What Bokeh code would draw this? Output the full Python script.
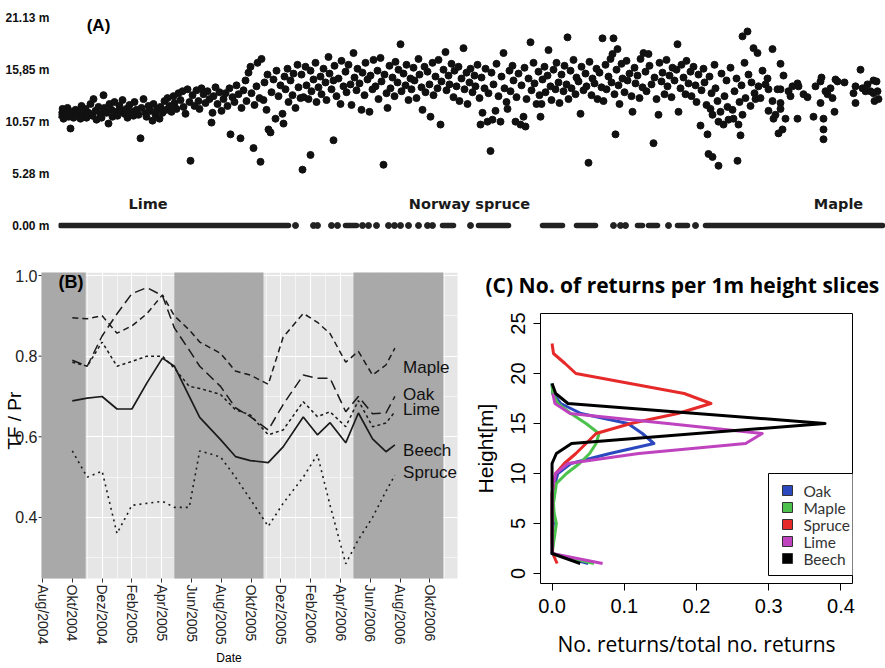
import math

from bokeh.core.properties import value
from bokeh.embed import file_html
from bokeh.layouts import column, row
from bokeh.models import FixedTicker, Grid, Label, Range1d
from bokeh.plotting import figure
from bokeh.resources import INLINE

# ---------------------------------------------------------------------------
# (A) crown heights of laser returns along the transect (position, height in m)
# ---------------------------------------------------------------------------
height_ticks = [0.0, 5.28, 10.57, 15.85, 21.13]
height_tick_labels = ["0.00 m", "5.28 m", "10.57 m", "15,85 m", "21.13 m"]

lime_crowns = [
    (60, 11.3), (62, 11.9), (63, 10.9), (65, 11.5), (67, 12.0), (68, 11.1), (70, 9.9), (71, 11.6),
    (73, 11.0), (75, 11.8), (76, 11.3), (78, 11.7), (80, 10.9), (81, 12.2), (83, 11.4), (85, 11.9),
    (86, 11.0), (88, 11.5), (90, 12.4), (92, 11.2), (93, 12.9), (95, 11.7), (96, 10.8), (98, 12.1),
    (100, 11.4), (101, 11.0), (103, 13.3), (104, 12.0), (106, 11.5), (108, 10.4), (109, 12.4),
    (111, 11.8), (112, 11.1), (114, 12.6), (116, 11.6), (117, 11.2), (119, 12.2), (121, 11.7),
    (122, 12.8), (124, 11.4), (126, 11.9), (127, 11.0), (129, 12.3), (131, 11.6), (133, 11.2),
    (134, 12.6), (136, 11.8), (138, 11.3), (140, 8.9), (141, 12.0), (143, 12.9), (145, 11.5),
    (146, 11.1), (148, 12.2), (150, 11.7), (152, 10.7), (153, 12.4), (155, 11.3), (157, 11.9),
    (159, 10.9), (160, 12.1), (162, 11.5), (164, 12.7), (166, 11.8), (167, 13.0), (169, 12.2),
    (171, 11.6), (173, 13.2), (174, 12.5), (176, 11.9), (178, 13.5), (180, 12.8), (182, 13.7),
    (183, 12.1), (185, 11.4), (187, 13.9), (189, 12.6), (190, 6.6), (192, 13.3), (194, 12.2),
    (196, 13.8), (198, 12.7), (199, 11.9), (201, 14.0), (203, 13.4), (205, 12.5), (207, 13.7),
    (209, 12.9), (211, 10.5), (212, 11.5), (213, 13.2), (215, 14.1), (217, 12.4), (219, 13.6),
    (221, 11.7), (223, 12.9), (225, 13.5), (227, 12.2), (229, 14.0), (230, 9.3), (232, 13.1),
    (234, 12.6), (236, 14.3), (238, 13.4), (240, 8.9), (241, 12.0), (243, 13.8), (245, 14.8),
    (246, 12.7), (248, 15.6), (250, 16.2), (251, 13.5), (253, 7.9), (254, 12.3), (256, 14.2),
    (257, 16.6), (259, 13.0), (260, 6.5), (261, 17.0), (263, 12.8), (264, 14.6), (266, 11.8),
    (267, 15.4), (268, 9.8), (270, 9.5), (271, 13.6), (273, 14.9), (275, 10.9), (276, 15.8),
    (278, 13.2), (280, 14.3), (282, 11.4), (283, 10.4), (284, 15.2), (285, 13.9), (287, 16.0),
    (288, 12.6), (290, 14.8), (292, 13.3), (293, 15.5), (295, 12.0), (297, 16.4), (298, 14.1),
    (300, 13.0),
]

spruce_crowns = [
    (301, 15.4), (302, 5.7), (303, 13.1), (305, 16.2), (306, 14.3), (308, 12.9), (310, 15.8),
    (310, 7.2), (311, 13.7), (313, 14.9), (315, 16.6), (316, 12.6), (318, 14.1), (320, 15.2),
    (321, 13.4), (323, 16.0), (325, 14.6), (326, 12.8), (328, 17.2), (329, 15.5), (331, 13.9),
    (333, 8.7), (333, 14.8), (334, 16.3), (336, 13.2), (338, 15.0), (340, 12.4), (341, 16.8),
    (343, 14.2), (345, 15.7), (346, 13.6), (348, 16.4), (350, 14.4), (351, 12.3),
    (353, 17.6), (354, 15.1), (356, 13.8), (357, 16.0), (359, 14.5), (361, 11.8), (362, 15.6),
    (364, 13.3), (365, 16.6), (367, 14.9), (369, 11.6), (370, 15.3), (372, 13.9), (373, 16.9),
    (375, 14.2), (377, 15.8), (378, 12.9), (380, 17.1), (381, 14.7), (383, 6.2), (384, 15.4),
    (386, 13.5), (387, 12.0), (389, 16.3), (390, 14.0), (392, 15.1), (394, 13.2), (395, 16.7),
    (397, 14.6), (398, 15.9), (400, 18.5), (401, 13.7), (403, 15.5), (405, 14.3), (406, 16.4),
    (408, 12.8), (410, 15.0), (411, 13.9), (413, 16.1), (414, 14.8), (416, 13.0), (418, 17.0),
    (419, 15.4), (421, 14.1), (422, 11.8), (424, 16.2), (425, 13.6), (427, 15.7), (429, 14.4),
    (430, 11.1), (432, 16.6), (433, 13.3), (435, 15.2), (437, 14.0), (438, 16.9), (440, 10.3),
    (441, 14.7), (443, 15.9), (445, 17.7), (446, 13.8), (448, 15.3), (449, 14.4), (451, 16.5),
    (453, 13.1), (454, 15.8), (456, 14.2), (458, 16.2), (459, 12.7), (461, 15.0), (463, 18.1),
    (464, 13.9), (466, 15.6), (467, 12.4), (469, 14.6), (470, 16.0),
    (472, 13.6), (474, 15.3), (475, 14.2), (477, 16.4), (479, 13.0), (480, 10.3), (481, 15.1),
    (482, 11.5), (484, 14.0), (485, 16.0), (487, 10.6), (488, 13.5), (490, 7.6), (491, 15.6),
    (492, 10.8), (493, 14.4), (495, 11.7), (496, 16.5), (498, 13.2), (500, 10.6), (501, 15.2),
    (503, 17.6), (504, 14.0), (506, 12.6), (507, 11.9), (509, 15.8), (510, 13.7), (512, 16.3),
    (513, 14.8), (515, 10.6), (516, 13.1), (518, 15.5), (520, 10.3), (521, 14.3), (523, 11.1),
    (524, 16.1), (525, 10.1), (526, 12.9), (528, 15.0), (530, 18.7), (531, 13.8), (533, 16.6),
    (534, 14.5), (536, 12.4), (538, 15.7), (539, 13.3), (540, 11.1), (541, 12.4), (542, 14.9),
    (544, 16.2), (545, 13.6), (547, 15.3), (548, 17.9), (550, 14.2), (551, 12.8), (553, 15.9),
    (555, 13.9), (556, 16.6), (558, 14.6), (559, 12.5),
    (561, 15.4), (563, 13.7), (564, 16.3), (566, 14.4), (567, 19.2), (568, 12.9), (570, 15.8),
    (571, 14.0), (573, 16.9), (575, 13.4), (576, 15.1), (578, 14.7), (580, 11.4), (581, 16.2),
    (583, 13.8), (585, 15.5), (586, 14.2), (588, 6.4), (589, 16.7), (591, 13.3), (592, 15.0),
    (594, 14.5), (596, 16.0), (597, 12.9), (599, 15.6), (601, 14.1), (602, 19.1), (603, 12.7),
    (605, 16.4), (606, 13.9), (608, 15.2), (610, 17.0), (611, 14.6), (612, 17.5), (613, 19.1),
    (614, 13.4), (615, 9.3), (616, 15.9), (617, 18.0), (618, 14.3), (619, 12.4), (621, 16.5),
    (622, 15.0), (624, 13.6), (626, 16.8), (627, 14.8), (629, 15.5), (631, 13.2), (632, 11.6),
    (634, 16.1), (635, 14.5), (637, 15.3), (639, 13.0), (640, 17.0), (642, 14.1), (643, 17.6),
    (645, 15.7), (646, 13.7), (648, 17.5), (649, 16.3), (651, 14.4), (653, 8.4), (654, 15.1),
    (656, 12.9), (658, 11.3), (659, 16.6), (661, 14.7), (662, 15.6), (664, 13.4), (666, 16.9),
    (667, 14.2), (669, 15.3), (671, 13.1), (672, 16.1), (674, 14.8), (676, 15.9), (677, 18.5),
    (678, 11.6), (680, 14.0), (681, 16.4), (683, 15.1), (685, 13.4), (686, 16.8), (688, 14.5),
    (690, 15.7), (691, 13.2), (693, 16.2), (695, 14.3), (696, 12.6), (698, 15.4), (700, 10.2),
    (701, 13.8), (703, 16.0), (704, 14.6), (706, 12.3), (707, 9.3), (708, 7.3), (709, 15.2),
    (710, 11.9), (711, 13.5), (712, 11.3), (712, 7.0), (714, 16.4), (715, 14.0), (717, 12.7),
    (718, 10.6), (718, 6.1), (720, 11.6), (721, 15.5), (723, 10.3), (724, 13.2), (726, 14.8),
    (727, 12.1), (728, 10.8), (730, 16.1), (732, 11.8), (733, 10.9), (734, 13.7), (736, 15.0),
    (737, 6.6), (738, 10.3), (739, 12.6), (740, 9.2), (741, 14.3), (742, 19.3), (742, 11.3),
    (744, 16.6), (745, 13.0), (747, 19.8), (748, 15.4), (750, 12.2), (751, 14.6), (753, 18.1),
    (754, 13.5), (755, 12.9),
]

maple_crowns = [
    (757, 17.6), (758, 14.2), (760, 13.0), (762, 15.8), (765, 14.4), (767, 15.0), (768, 13.9),
    (768, 11.7), (772, 18.0), (772, 12.7), (773, 10.9), (775, 11.3), (777, 13.9), (778, 9.4),
    (780, 16.5), (780, 13.9), (780, 12.5), (780, 11.9), (782, 9.8), (783, 15.3), (785, 10.9),
    (788, 13.7), (790, 13.2), (792, 14.2), (797, 14.5), (797, 10.9), (798, 14.2), (803, 13.4),
    (807, 13.1), (813, 11.1), (815, 14.2), (820, 14.7), (820, 12.5), (821, 15.1), (823, 10.9),
    (823, 9.8), (823, 8.8), (825, 13.7), (827, 13.4), (830, 14.0), (832, 13.0), (834, 11.6),
    (835, 14.9), (837, 14.7), (844, 14.6), (853, 13.5), (855, 14.2), (855, 12.5), (860, 15.9),
    (862, 14.0), (865, 13.7), (867, 14.4), (870, 13.7), (873, 14.8), (873, 13.5), (874, 12.7),
    (876, 14.7), (877, 13.7), (878, 12.9),
]

# ground returns: continuous runs and isolated hits (position along transect)
ground_run_start = [60, 345, 442, 478, 542, 576, 637, 648, 677, 705]
ground_run_end = [288, 356, 453, 508, 562, 595, 642, 657, 687, 882]
ground_hits = [295, 313, 317, 331, 337, 362, 368, 376, 388, 394, 400, 408, 418, 427, 432,
               470, 613, 620, 625, 668, 695]

stand_names = ["Lime", "Norway spruce", "Maple"]

# ---------------------------------------------------------------------------
# (B) throughfall / precipitation ratio, months after August 2004
# ---------------------------------------------------------------------------
sample_month = [2.0, 3.0, 4.0, 5.0, 6.0, 7.0, 8.05, 8.85, 9.85, 10.55, 11.95, 12.95, 13.95,
                15.15, 16.15, 17.5, 18.45, 19.3, 20.35, 21.2, 22.15, 23.05, 23.65]
tf_maple = [0.895, 0.893, 0.90, 0.857, 0.875, 0.905, 0.952, 0.90, 0.865, 0.835, 0.807, 0.763,
            0.753, 0.73, 0.847, 0.906, 0.884, 0.856, 0.785, 0.812, 0.753, 0.778, 0.82]
tf_oak = [0.79, 0.775, 0.85, 0.905, 0.955, 0.97, 0.95, 0.87, 0.815, 0.775, 0.725, 0.672,
          0.65, 0.617, 0.68, 0.753, 0.745, 0.745, 0.662, 0.70, 0.657, 0.659, 0.70]
tf_lime = [0.785, 0.775, 0.835, 0.775, 0.787, 0.80, 0.80, 0.77, 0.725, 0.72, 0.705, 0.667,
           0.654, 0.605, 0.617, 0.687, 0.65, 0.662, 0.625, 0.69, 0.625, 0.634, 0.662]
tf_beech = [0.689, 0.696, 0.70, 0.669, 0.669, 0.733, 0.795, 0.775, 0.70, 0.648, 0.593, 0.551,
            0.541, 0.536, 0.575, 0.649, 0.605, 0.635, 0.585, 0.659, 0.595, 0.563, 0.58]
tf_spruce = [0.565, 0.50, 0.515, 0.36, 0.43, 0.435, 0.44, 0.425, 0.425, 0.565, 0.55, 0.50,
             0.445, 0.378, 0.435, 0.50, 0.556, 0.43, 0.285, 0.345, 0.40, 0.465, 0.505]

# foliated periods (dark bands)
leaf_on = [-1.0, 8.85, 20.87]
leaf_off = [2.9, 14.83, 26.9]

date_ticks = [0, 2, 4, 6, 8, 10, 12, 14, 16, 18, 20, 22, 24, 26]
date_labels = ["Aug/2004", "Okt/2004", "Dez/2004", "Feb/2005", "Apr/2005", "Jun/2005",
               "Aug/2005", "Okt/2005", "Dez/2005", "Feb/2006", "Apr/2006", "Jun/2006",
               "Aug/2006", "Okt/2006"]
ratio_ticks_b = [0.4, 0.6, 0.8, 1.0]
ratio_labels_b = ["0.4", "0.6", "0.8", "1.0"]

# ---------------------------------------------------------------------------
# (C) vertical return profiles per 1 m height slice
# ---------------------------------------------------------------------------
slice_height = list(range(1, 24))
prof_oak = [0.05, 0.0, 0.001, 0.0, 0.002, 0.0, 0.001, 0.002, 0.004, 0.008, 0.026, 0.08,
            0.141, 0.125, 0.105, 0.04, 0.012, 0.001, 0.0]
prof_maple = [0.058, 0.0, 0.002, 0.004, 0.006, 0.003, 0.002, 0.004, 0.006, 0.02, 0.038,
              0.052, 0.061, 0.065, 0.047, 0.026, 0.008, 0.001, 0.0]
prof_spruce = [0.007, 0.001, 0.0, 0.0, 0.0, 0.0, 0.0, 0.0, 0.002, 0.005, 0.017, 0.033, 0.047,
               0.061, 0.109, 0.174, 0.22, 0.183, 0.108, 0.033, 0.018, 0.002, 0.0]
prof_lime = [0.07, 0.0, 0.0, 0.0, 0.0, 0.0, 0.0, 0.0, 0.002, 0.005, 0.022, 0.12, 0.268,
             0.291, 0.16, 0.025, 0.004, 0.001]
prof_beech = [0.039, 0.0, 0.0, 0.0, 0.0, 0.0, 0.0, 0.0, 0.0, 0.0, 0.0, 0.006, 0.027, 0.2,
              0.378, 0.2, 0.022, 0.005, 0.0]
profile_names = ["Oak", "Maple", "Spruce", "Lime", "Beech"]
profile_colors = ["#2B48BE", "#4CC24C", "#E62A2A", "#BF43BF", "#000000"]
ratio_ticks_c = [0.0, 0.1, 0.2, 0.3, 0.4]
ratio_labels_c = ["0.0", "0.1", "0.2", "0.3", "0.4"]
height_ticks_c = [0, 5, 10, 15, 20, 25]

ARIAL = "Liberation Sans"
CALI = "Lato"
OPEN = "Open Sans"

# ============================ panel A ======================================
pa = figure(width=885, height=245, x_range=Range1d(58, 885), y_range=Range1d(-2.04, 22.96),
            output_backend="svg", toolbar_location=None, x_axis_location=None,
            min_border_left=58, min_border_right=0, min_border_top=0, min_border_bottom=0)
pa.outline_line_color = None
pa.grid.visible = False
pa.background_fill_color = "white"

for crowns in (lime_crowns, spruce_crowns, maple_crowns):
    pa.scatter([c[0] for c in crowns], [c[1] for c in crowns], size=7,
               fill_color="#111111", line_color="#111111")

pa.segment(x0=ground_run_start, y0=[0] * len(ground_run_start),
           x1=ground_run_end, y1=[0] * len(ground_run_end),
           line_width=5.5, line_cap="round", line_color="#222222")
pa.scatter(ground_hits, [0] * len(ground_hits), size=6, fill_color="#222222",
           line_color="#222222")

ya = pa.yaxis[0]
ya.ticker = FixedTicker(ticks=height_ticks)
ya.major_label_overrides = dict(zip(height_ticks, height_tick_labels))
ya.axis_line_color = None
ya.major_tick_line_color = None
ya.minor_tick_line_color = None
ya.major_label_standoff = 3
ya.major_label_text_font = ARIAL
ya.major_label_text_font_style = "bold"
ya.major_label_text_font_size = "12px"
ya.major_label_text_color = "#111111"

pa.add_layout(Label(x=98, y=20.4, text="(A)", text_font=ARIAL, text_font_style="bold",
                    text_font_size="17px", text_align="center", text_baseline="middle",
                    text_color="black"))
for name, xc in zip(stand_names, [147.5, 469, 838]):
    pa.add_layout(Label(x=xc, y=2.2, text=name, text_font="DejaVu Sans",
                        text_font_style="bold", text_font_size="14.5px",
                        text_align="center", text_baseline="middle", text_color="#1a1a1a"))

# ============================ panel B ======================================
# the frame covers the whole upper-left of the panel; the grey data area is drawn
# as a rectangle from PANEL_LEFT..PANEL_RIGHT and PANEL_BOTTOM..PANEL_TOP
PANEL_LEFT = -0.067
PANEL_RIGHT = 27.852
PANEL_BOTTOM = 0.2486
PANEL_TOP = 1.0074
pb = figure(width=470, height=423, x_range=Range1d(-2.819, PANEL_RIGHT),
            y_range=Range1d(PANEL_BOTTOM, 1.0744), output_backend="svg",
            toolbar_location=None, y_axis_location=None,
            min_border_left=0, min_border_right=13, min_border_top=0, min_border_bottom=90)
pb.outline_line_color = None
pb.background_fill_color = "white"
pb.border_fill_color = "white"

xt = FixedTicker(ticks=date_ticks, minor_ticks=[m + 1 for m in date_ticks])
yt = FixedTicker(ticks=ratio_ticks_b, minor_ticks=[0.3, 0.5, 0.7, 0.9])
pb.xaxis.ticker = xt
pb.xgrid.ticker = xt
pb.xgrid.grid_line_color = None
pb.xgrid.minor_grid_line_color = None

# grey panel behind the grid
pb.quad(left=[PANEL_LEFT], right=[PANEL_RIGHT + 1], bottom=[0], top=[PANEL_TOP],
        fill_color="#E6E6E6", line_color=None, level="image")
for dim, tk in ((0, xt), (1, yt)):
    pb.add_layout(Grid(dimension=dim, ticker=tk, grid_line_color="white", grid_line_width=1.1,
                       minor_grid_line_color="white", minor_grid_line_width=0.55))
# white cover above the panel hides the vertical grid lines there
pb.quad(left=[-5], right=[PANEL_RIGHT + 1], bottom=[PANEL_TOP], top=[2],
        fill_color="white", line_color=None)

pb.quad(left=[max(v, PANEL_LEFT) for v in leaf_on], right=leaf_off, bottom=0, top=PANEL_TOP,
        fill_color="#A9A9A9", line_color=None)

dark = "#1a1a1a"
pb.line(sample_month, tf_maple, line_color=dark, line_width=1.5, line_dash="6 4")
pb.line(sample_month, tf_oak, line_color=dark, line_width=1.5, line_dash="10 5")
pb.line(sample_month, tf_lime, line_color=dark, line_width=1.5, line_dash="3 3")
pb.line(sample_month, tf_beech, line_color=dark, line_width=1.7)
pb.line(sample_month, tf_spruce, line_color=dark, line_width=1.6, line_dash="2 4")

# y axis of the panel: ticks, labels and title left of the grey area
pb.segment(x0=[PANEL_LEFT - 0.2] * 4, y0=ratio_ticks_b, x1=[PANEL_LEFT] * 4, y1=ratio_ticks_b,
           line_color="#333333", line_width=1)
pb.text([PANEL_LEFT - 0.27] * 4, ratio_ticks_b, text=ratio_labels_b, text_font=value(ARIAL),
        text_font_size="16px", text_align="right", text_baseline="middle",
        text_color="#222222")
pb.text([-1.88], [0.64], text=["TF / Pr"], text_font=value(ARIAL), text_font_size="19px",
        angle=math.pi / 2, text_align="center", text_baseline="middle", text_color="black")

xb = pb.xaxis[0]
xb.axis_line_color = None
xb.major_tick_line_color = "#333333"
xb.major_tick_out = 4
xb.major_tick_in = 0
xb.minor_tick_line_color = None
xb.major_label_standoff = 2
xb.major_label_text_font = ARIAL
xb.major_label_text_color = "#222222"
xb.major_label_overrides = dict(zip(date_ticks, date_labels))
xb.major_label_orientation = "vertical"
xb.major_label_text_font_size = "14px"
xb.axis_label = "Date"
xb.axis_label_text_font = ARIAL
xb.axis_label_text_font_style = "normal"
xb.axis_label_text_color = "black"
xb.axis_label_text_font_size = "12px"
xb.axis_label_standoff = 4

pb.add_layout(Label(x=1.07, y=0.983, text="(B)", text_font=ARIAL, text_font_style="bold",
                    text_font_size="18px", text_align="left", text_baseline="middle",
                    text_color="black"))
for name, yv in zip(["Maple", "Oak", "Lime", "Beech", "Spruce"],
                    [0.773, 0.706, 0.668, 0.565, 0.511]):
    pb.add_layout(Label(x=24.2, y=yv, text=name, text_font=ARIAL, text_font_size="17px",
                        text_align="left", text_baseline="middle", text_color="#111111"))

# ============================ panel C ======================================
pc = figure(width=415, height=423, x_range=Range1d(-0.016, 0.416), y_range=Range1d(-1.0, 26.0),
            output_backend="svg", toolbar_location=None,
            min_border_left=69, min_border_right=33, min_border_top=68, min_border_bottom=85)
pc.outline_line_color = "black"
pc.outline_line_width = 1
pc.grid.visible = False

pc.title.text = "(C)  No. of returns per 1m height slices"
pc.title.text_font = OPEN
pc.title.text_font_style = "bold"
pc.title.text_font_size = "21px"
pc.title.text_color = "black"
pc.title.align = "left"
pc.title.offset = -55
pc.title.standoff = 30

profiles = [prof_oak, prof_maple, prof_spruce, prof_lime, prof_beech]
for prof, col in zip(profiles, profile_colors):
    pc.line(prof, slice_height[:len(prof)], line_color=col, line_width=3, line_join="round")

# legend box, lower right
pc.quad(left=[0.2997], right=[0.43], bottom=[-0.2], top=[10.0], fill_color="white",
        line_color="black", line_width=1)
legend_y = [8.3, 6.6, 4.9, 3.2, 1.5]
pc.scatter([0.326] * 5, legend_y, marker="square", size=10, fill_color=profile_colors,
           line_color="#333333", line_width=1)
pc.text([0.348] * 5, legend_y, text=profile_names, text_font=value(CALI),
        text_font_size="15.5px", text_baseline="middle", text_align="left",
        text_color="#333333")

pc.xaxis.ticker = FixedTicker(ticks=ratio_ticks_c)
pc.xaxis.major_label_overrides = dict(zip(ratio_ticks_c, ratio_labels_c))
pc.xaxis.bounds = (0, 0.4)
pc.yaxis.ticker = FixedTicker(ticks=height_ticks_c)
pc.yaxis.bounds = (0, 25)
pc.yaxis.major_label_orientation = "vertical"
for ax in (pc.xaxis[0], pc.yaxis[0]):
    ax.axis_line_color = "black"
    ax.major_tick_line_color = "black"
    ax.major_tick_out = 7
    ax.major_tick_in = 0
    ax.minor_tick_line_color = None
    ax.major_label_text_font = ARIAL
    ax.major_label_text_font_size = "20px"
    ax.major_label_text_color = "black"
    ax.axis_label_text_font_style = "normal"
    ax.axis_label_text_color = "black"
pc.xaxis.major_label_standoff = 8
pc.yaxis.major_label_standoff = 9
pc.xaxis.axis_label = "No. returns/total no. returns"
pc.xaxis.axis_label_text_font = OPEN
pc.xaxis.axis_label_text_font_size = "21px"
pc.xaxis.axis_label_standoff = 14
pc.yaxis.axis_label = "Height[m]"
pc.yaxis.axis_label_text_font = ARIAL
pc.yaxis.axis_label_text_font_size = "21px"
pc.yaxis.axis_label_standoff = 11

layout = column(pa, row(column(pb), column(pc)))
open("out.html", "w").write(file_html(layout, INLINE))
